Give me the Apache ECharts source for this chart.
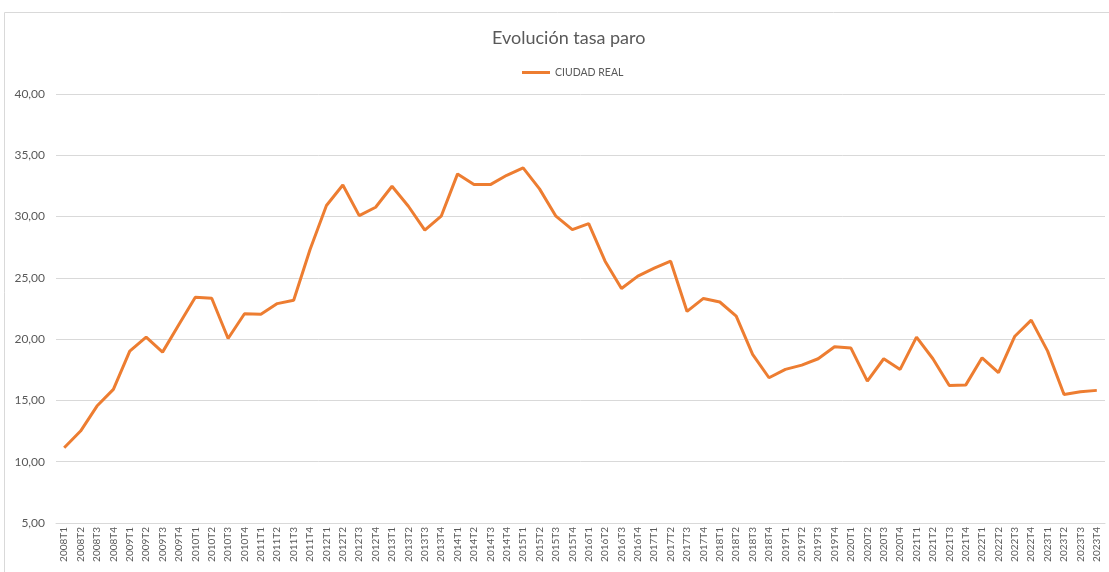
<!DOCTYPE html>
<html>
<head>
<meta charset="utf-8">
<script src="https://cdn.jsdelivr.net/npm/echarts@6/dist/echarts.min.js"></script>
<style>
html,body{margin:0;padding:0;background:#fff;}
#chart{width:1109px;height:572px;}
</style>
</head>
<body>
<div id="chart"></div>
<script>
const years = [2008,2009,2010,2011,2012,2013,2014,2015,2016,2017,2018,2019,2020,2021,2022,2023];
const quarters = ['T1','T2','T3','T4'];
const categories = [];
years.forEach(y => quarters.forEach(q => categories.push(y + q)));

const seriesName = 'CIUDAD REAL';
const values = [
  11.14, 12.50, 14.54, 15.90,
  19.02, 20.16, 18.94, 21.20,
  23.42, 23.34, 20.05, 22.07,
  22.04, 22.90, 23.18, 27.31,
  30.90, 32.58, 30.08, 30.76,
  32.47, 30.84, 28.89, 30.03,
  33.48, 32.61, 32.61, 33.37,
  33.97, 32.26, 30.03, 28.94,
  29.43, 26.36, 24.13, 25.14,
  25.79, 26.36, 22.26, 23.32,
  23.03, 21.88, 18.75, 16.85,
  17.53, 17.88, 18.40, 19.38,
  19.27, 16.58, 18.40, 17.53,
  20.16, 18.40, 16.22, 16.25,
  18.48, 17.26, 20.24, 21.55,
  19.02, 15.49, 15.71, 15.82
];

const titleText = 'Evolución tasa paro';
const yMin = 5, yMax = 40, yInterval = 5;

const chart = echarts.init(document.getElementById('chart'), null, {renderer: 'canvas'});
const font = 'Lato, "Open Sans", sans-serif';
chart.setOption({
  animation: false,
  backgroundColor: '#ffffff',
  graphic: [{
    type: 'rect',
    shape: {x: 4.5, y: 12.5, width: 1200, height: 700},
    style: {fill: 'none', stroke: '#d9d9d9', lineWidth: 1},
    silent: true
  }],
  title: {
    text: titleText,
    left: 487,
    top: 24,
    textStyle: {fontFamily: font, fontSize: 18, fontWeight: 'normal', color: '#595959'}
  },
  legend: {
    data: [seriesName],
    top: 62,
    left: 517,
    icon: 'rect',
    itemWidth: 28,
    itemHeight: 3,
    itemGap: 4,
    textStyle: {fontFamily: font, fontSize: 10.5, color: '#595959'}
  },
  grid: {left: 56, right: 4, top: 94, bottom: 49, containLabel: false},
  xAxis: {
    type: 'category',
    data: categories,
    boundaryGap: true,
    axisLine: {show: true, lineStyle: {color: '#d9d9d9'}},
    axisTick: {show: false},
    axisLabel: {
      interval: 0,
      rotate: 90,
      margin: 4,
      fontFamily: font,
      fontSize: 10,
      color: '#595959'
    }
  },
  yAxis: {
    type: 'value',
    min: yMin,
    max: yMax,
    interval: yInterval,
    axisLine: {show: false},
    axisTick: {show: false},
    splitLine: {lineStyle: {color: '#d9d9d9', width: 1}},
    axisLabel: {
      margin: 11,
      fontFamily: font,
      fontSize: 12,
      color: '#595959',
      formatter: v => v.toFixed(2).replace('.', ',')
    }
  },
  series: [{
    name: seriesName,
    type: 'line',
    data: values,
    showSymbol: false,
    symbol: 'none',
    lineStyle: {color: '#ED7D31', width: 3},
    itemStyle: {color: '#ED7D31'}
  }]
});
</script>
</body>
</html>
